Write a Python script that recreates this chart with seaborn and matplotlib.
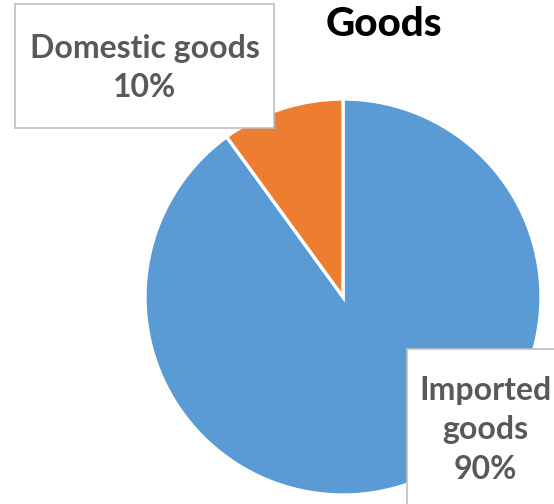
import matplotlib
matplotlib.use("Agg")
import matplotlib.pyplot as plt
import seaborn as sns
from matplotlib.patches import Rectangle

categories = ["Imported goods", "Domestic goods"]
values = [90, 10]
title = "Goods"

sns.set_theme(style="white")
plt.rcParams['font.family'] = ['Lato', 'DejaVu Sans']
colors = ["#5B9BD5", "#ED7D31"]

W, H = 554, 504
fig = plt.figure(figsize=(W / 100, H / 100), dpi=100)
ax = fig.add_axes([0, 0, 1, 1])

ax.pie(values, colors=colors, startangle=90, counterclock=False,
       center=(343, H - 297), radius=198,
       wedgeprops=dict(edgecolor="white", linewidth=2.4))
ax.set_xlim(0, W)
ax.set_ylim(0, H)
ax.set_aspect("auto")
ax.axis("off")

ax.text(384, H - 24, title, ha="center", va="center", fontsize=29,
        fontweight="black", color="black")

txt_color = "#595959"
pct = [f"{v}%" for v in values]

# Domestic label box
ax.add_patch(Rectangle((15, H - 128), 259, 124, facecolor="white",
                       edgecolor="#BFBFBF", linewidth=1.2, zorder=3))
ax.text(145, H - 68, f"{categories[1]}\n{pct[1]}", ha="center", va="center",
        fontsize=23, fontweight="bold", color=txt_color, linespacing=1.45,
        zorder=4)

# Imported label box
ax.add_patch(Rectangle((407, -20), 170, H - 349 + 20, facecolor="white",
                       edgecolor="#BFBFBF", linewidth=1.2, zorder=3))
ax.text(485, H - 430, "Imported\ngoods\n" + pct[0], ha="center", va="center",
        fontsize=23, fontweight="bold", color=txt_color, linespacing=1.45,
        zorder=4)

fig.savefig("out.png", dpi=100)
